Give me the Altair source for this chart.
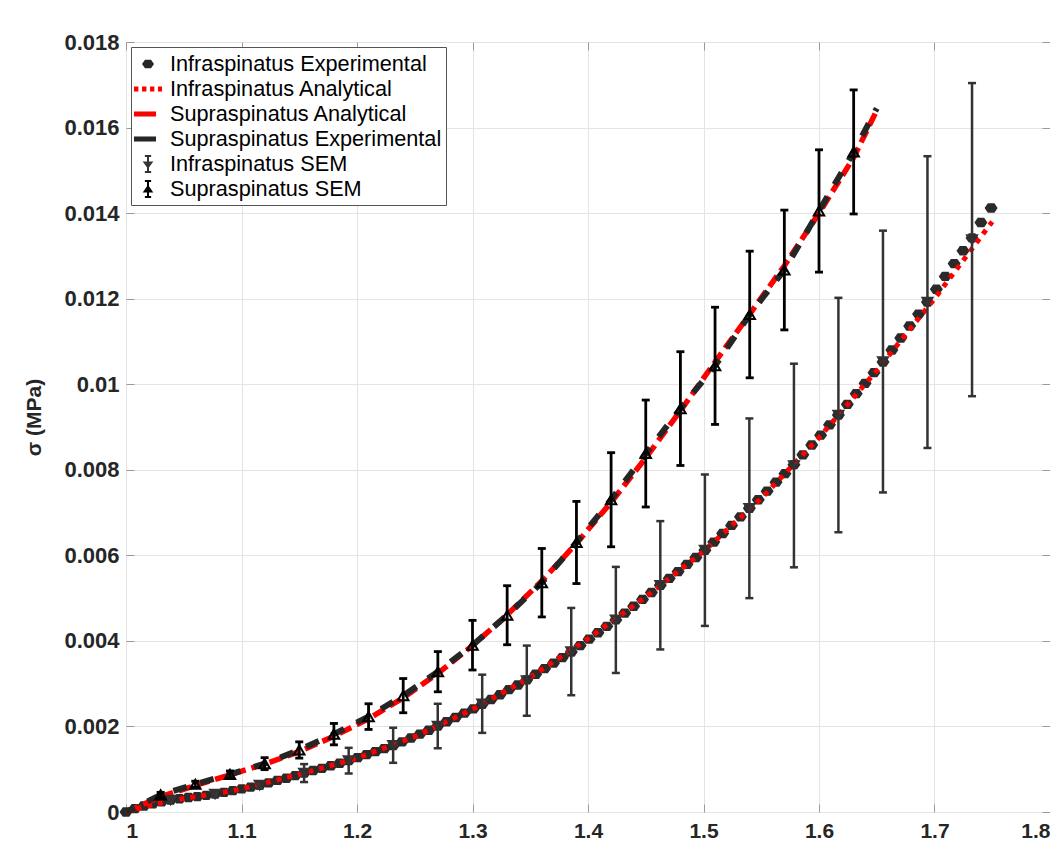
import altair as alt
import pandas as pd

# ---------------- data ----------------
infra_exp_x = [1.0000, 1.0077, 1.0154, 1.0231, 1.0308, 1.0386, 1.0463, 1.0540, 1.0617, 1.0694,
               1.0771, 1.0848, 1.0925, 1.1002, 1.1079, 1.1157, 1.1234, 1.1311, 1.1388, 1.1465,
               1.1542, 1.1619, 1.1696, 1.1773, 1.1850, 1.1928, 1.2005, 1.2082, 1.2159, 1.2236,
               1.2313, 1.2390, 1.2467, 1.2544, 1.2621, 1.2699, 1.2776, 1.2853, 1.2930, 1.3007,
               1.3084, 1.3161, 1.3238, 1.3315, 1.3392, 1.3470, 1.3547, 1.3624, 1.3701, 1.3778,
               1.3855, 1.3932, 1.4009, 1.4086, 1.4163, 1.4241, 1.4318, 1.4395, 1.4472, 1.4549,
               1.4626, 1.4703, 1.4780, 1.4857, 1.4934, 1.5012, 1.5089, 1.5166, 1.5243, 1.5320,
               1.5397, 1.5474, 1.5551, 1.5628, 1.5705, 1.5783, 1.5860, 1.5937, 1.6014, 1.6091,
               1.6168, 1.6245, 1.6322, 1.6399, 1.6476, 1.6554, 1.6631, 1.6708, 1.6785, 1.6862,
               1.6939, 1.7016, 1.7093, 1.7170, 1.7247, 1.7325, 1.7402, 1.7490]
infra_exp_y = [0.0, 0.00008, 0.00014, 0.00019, 0.00024, 0.00028, 0.00031, 0.00034, 0.00036, 0.00039,
               0.00042, 0.00046, 0.00050, 0.00054, 0.00058, 0.00063, 0.00068, 0.00074, 0.00079, 0.00085,
               0.00091, 0.00097, 0.00102, 0.00108, 0.00114, 0.00120, 0.00127, 0.00134, 0.00141, 0.00148,
               0.00155, 0.00164, 0.00173, 0.00182, 0.00191, 0.00201, 0.00211, 0.00221, 0.00231, 0.00241,
               0.00252, 0.00263, 0.00274, 0.00286, 0.00297, 0.00309, 0.00322, 0.00335, 0.00348, 0.00361,
               0.00374, 0.00389, 0.00404, 0.00419, 0.00434, 0.00449, 0.00465, 0.00481, 0.00497, 0.00513,
               0.00530, 0.00546, 0.00562, 0.00579, 0.00595, 0.00612, 0.00631, 0.00651, 0.00670, 0.00690,
               0.00710, 0.00730, 0.00750, 0.00771, 0.00791, 0.00812, 0.00835, 0.00858, 0.00881, 0.00905,
               0.00928, 0.00953, 0.00978, 0.01002, 0.01027, 0.01052, 0.01080, 0.01108, 0.01136, 0.01164,
               0.01192, 0.01222, 0.01252, 0.01282, 0.01312, 0.01342, 0.01378, 0.01412]

infra_an_x = [1.00, 1.02, 1.04, 1.06, 1.08, 1.10, 1.15, 1.20, 1.25, 1.30,
              1.35, 1.40, 1.45, 1.50, 1.55, 1.60, 1.65, 1.70, 1.75]
infra_an_y = [0.0, 0.00015, 0.00027, 0.00036, 0.00044, 0.00054, 0.00088, 0.00126, 0.00176, 0.00240,
              0.00315, 0.00405, 0.00503, 0.00609, 0.00733, 0.00875, 0.01032, 0.01200, 0.01380]

supra_x = [1.00, 1.03, 1.06, 1.09, 1.12, 1.15, 1.18, 1.21, 1.24, 1.27, 1.30, 1.33,
           1.36, 1.39, 1.42, 1.45, 1.48, 1.51, 1.54, 1.57, 1.60, 1.63, 1.65]
supra_an_y = [0.0, 0.00036, 0.00062, 0.00087, 0.00112, 0.00141, 0.00177, 0.00218, 0.00267, 0.00324,
              0.00389, 0.00461, 0.00540, 0.00628, 0.00724, 0.00828, 0.00938, 0.01052, 0.01164,
              0.01277, 0.01400, 0.01530, 0.01640]
supra_exp_y = [0.0, 0.00040, 0.00065, 0.00088, 0.00113, 0.00145, 0.00182, 0.00223, 0.00272, 0.00328,
               0.00390, 0.00460, 0.00536, 0.00630, 0.00730, 0.00838, 0.00943, 0.01043, 0.01163,
               0.01267, 0.01405, 0.01543, 0.01645]

supra_sem_x = [1.03, 1.06, 1.09, 1.12, 1.15, 1.18, 1.21, 1.24, 1.27, 1.30, 1.33,
               1.36, 1.39, 1.42, 1.45, 1.48, 1.51, 1.54, 1.57, 1.60, 1.63]
supra_sem_mean = [0.00040, 0.00065, 0.00088, 0.00113, 0.00145, 0.00182, 0.00223, 0.00272, 0.00328,
                  0.00390, 0.00460, 0.00536, 0.00630, 0.00730, 0.00838, 0.00943, 0.01043, 0.01163,
                  0.01267, 0.01405, 0.01543]
supra_sem_err = [0.00006, 0.00007, 0.00008, 0.00014, 0.00019, 0.00025, 0.00030, 0.00040, 0.00047,
                 0.00058, 0.00069, 0.00080, 0.00096, 0.00110, 0.00125, 0.00133, 0.00137, 0.00148,
                 0.00140, 0.00143, 0.00145]

infra_sem_x = [1.0386, 1.0771, 1.1157, 1.1542, 1.1928, 1.2313, 1.2699, 1.3084, 1.3470, 1.3855,
               1.4241, 1.4626, 1.5012, 1.5397, 1.5783, 1.6168, 1.6554, 1.6939, 1.7325]
infra_sem_mean = [0.00028, 0.00042, 0.00063, 0.00091, 0.00120, 0.00156, 0.00201, 0.00253, 0.00307,
                  0.00375, 0.00449, 0.00530, 0.00612, 0.00710, 0.00810, 0.00928, 0.01053, 0.01192, 0.01338]
infra_sem_err = [0.00005, 0.00006, 0.00008, 0.00021, 0.00030, 0.00041, 0.00052, 0.00068, 0.00082,
                 0.00102, 0.00124, 0.00150, 0.00177, 0.00210, 0.00238, 0.00274, 0.00306, 0.00341, 0.00366]

x_ticks = [1.0, 1.1, 1.2, 1.3, 1.4, 1.5, 1.6, 1.7, 1.8]
y_ticks = [0, 0.002, 0.004, 0.006, 0.008, 0.01, 0.012, 0.014, 0.016, 0.018]

legend_names = ["Infraspinatus Experimental", "Infraspinatus Analytical",
                "Supraspinatus Analytical", "Supraspinatus Experimental",
                "Infraspinatus SEM", "Supraspinatus SEM"]

# ---------------- tables ----------------
df_infra_exp = pd.DataFrame({"x": infra_exp_x, "y": infra_exp_y})
df_infra_an = pd.DataFrame({"x": infra_an_x, "y": infra_an_y})
df_supra_an = pd.DataFrame({"x": supra_x, "y": supra_an_y})
df_supra_exp = pd.DataFrame({"x": supra_x, "y": supra_exp_y})


def sem_frames(xs, means, errs):
    bars = pd.DataFrame({"x": xs, "y": means,
                         "lo": [m - e for m, e in zip(means, errs)],
                         "hi": [m + e for m, e in zip(means, errs)]})
    caps = pd.DataFrame({"x": list(xs) + list(xs),
                         "y": list(bars["lo"]) + list(bars["hi"])})
    return bars, caps


df_isem, df_icap = sem_frames(infra_sem_x, infra_sem_mean, infra_sem_err)
df_ssem, df_scap = sem_frames(supra_sem_x, supra_sem_mean, supra_sem_err)
df_leg = pd.DataFrame({"series": legend_names, "x": [0.5] * 6, "y": [0.0] * 6})

# ---------------- scales / axes ----------------
FONT = "Liberation Sans"
W, H = 924, 770
xs = alt.Scale(domain=[1, 1.8], nice=False, zero=False)
ys = alt.Scale(domain=[0, 0.018], nice=False, zero=False)

ax_x_main = alt.Axis(orient="bottom", values=x_ticks, format="~g", grid=True, gridColor="#e4e4e4",
                     ticks=False, tickSize=0, domain=False, labelPadding=8, title=None,
                     labelFont=FONT, labelFontSize=21, labelFontWeight="bold", labelColor="#262626")
ax_y_main = alt.Axis(orient="left", values=y_ticks, format="~g", grid=True, gridColor="#e4e4e4",
                     ticks=False, tickSize=0, domain=False, labelPadding=7,
                     title="σ (MPa)", titleFont=FONT, titleFontSize=21, titleFontWeight="bold",
                     titleColor="#262626", titleX=-82, titleY=375, titleBaseline="bottom",
                     labelFont=FONT, labelFontSize=22, labelFontWeight="bold", labelColor="#262626")


def tick_axis(orient, values, offset):
    return alt.Axis(orient=orient, values=values, offset=offset, labels=False, grid=False,
                    domain=False, ticks=True, tickSize=8, tickColor="#9a9a9a", tickWidth=1, title=None)


ax_x_in_bottom = tick_axis("top", x_ticks, -H)
ax_x_in_top = tick_axis("bottom", x_ticks, -H)
ax_y_in_left = tick_axis("right", y_ticks, -W)
ax_y_in_right = tick_axis("left", y_ticks, -W)


def X(axis=None):
    return alt.X("x:Q", scale=xs, axis=axis)


def Y(field="y", axis=None):
    return alt.Y(f"{field}:Q", scale=ys, axis=axis)


HEX = "M-1,0L-0.5,-0.72L0.5,-0.72L1,0L0.5,0.72L-0.5,0.72Z"

infra_exp = alt.Chart(df_infra_exp).mark_point(
    shape=HEX, filled=True, color="#2a2a2a", size=169, opacity=1
).encode(x=X(ax_x_main), y=Y(axis=ax_y_main))

infra_an = alt.Chart(df_infra_an).mark_line(
    color="#ff0000", strokeWidth=5, strokeDash=[5, 6], strokeCap="butt"
).encode(x=X(ax_x_in_bottom), y=Y(axis=ax_y_in_left))

supra_an = alt.Chart(df_supra_an).mark_line(
    color="#ff0000", strokeWidth=5.5, strokeDash=[13, 6], strokeCap="butt"
).encode(x=X(ax_x_in_top), y=Y(axis=ax_y_in_right))

supra_exp = alt.Chart(df_supra_exp).mark_line(
    color="#262626", strokeWidth=6, strokeDash=[14, 14], strokeDashOffset=4, strokeCap="butt"
).encode(x=X(), y=Y())

isem_bar = alt.Chart(df_isem).mark_rule(color="#333333", strokeWidth=2.5).encode(
    x=X(), y=Y("lo"), y2="hi")
isem_cap = alt.Chart(df_icap).mark_tick(color="#333333", orient="horizontal", size=8,
                                        thickness=2.5, opacity=1).encode(x=X(), y=Y())
isem_pt = alt.Chart(df_isem).mark_point(shape="triangle-down", filled=False, color="#333333",
                                        size=100, strokeWidth=2, opacity=1).encode(x=X(), y=Y())

ssem_bar = alt.Chart(df_ssem).mark_rule(color="#000000", strokeWidth=2.8).encode(
    x=X(), y=Y("lo"), y2="hi")
ssem_cap = alt.Chart(df_scap).mark_tick(color="#000000", orient="horizontal", size=8,
                                        thickness=2.8, opacity=1).encode(x=X(), y=Y())
ssem_pt = alt.Chart(df_ssem).mark_point(shape="triangle-up", filled=False, color="#000000",
                                        size=110, strokeWidth=2, opacity=1).encode(x=X(), y=Y())

# legend (library legend with custom symbols)
leg_paths = [
    "M-0.5,0L-0.25,-0.36L0.25,-0.36L0.5,0L0.25,0.36L-0.25,0.36Z",
    "M-1.17,-0.2H-0.8V0.2H-1.17Z M-0.5,-0.2H-0.13V0.2H-0.5Z M0.17,-0.2H0.53V0.2H0.17Z M0.83,-0.2H1.17V0.2H0.83Z",
    "M-1.17,-0.21H0.67V0.21H-1.17Z",
    "M-1.17,-0.21H0.67V0.21H-1.17Z",
    "M0,-0.66V0.66M-0.26,-0.66H0.26M-0.26,0.66H0.26M-0.28,-0.12H0.28L0,0.26Z",
    "M0,-0.66V0.66M-0.26,-0.66H0.26M-0.26,0.66H0.26M-0.28,0.2H0.28L0,-0.2Z",
]
leg_fills = ["#262626", "#ff0000", "#ff0000", "#262626", "transparent", "#000000"]
leg_strokes = ["transparent", "transparent", "transparent", "transparent", "#333333", "#000000"]

LEG = alt.Legend(title=None, orient="top-left", offset=5, padding=4, fillColor="white",
                 strokeColor="#555555", cornerRadius=0, symbolSize=576, symbolStrokeWidth=2,
                 symbolOpacity=1, labelFont=FONT, labelFontSize=21.7, labelColor="#000000",
                 labelLimit=600, rowPadding=0, labelOffset=9)

legend_layer = alt.Chart(df_leg).mark_point(clip=True, opacity=1, size=576).encode(
    x=X(), y=Y(),
    shape=alt.Shape("series:N", scale=alt.Scale(domain=legend_names, range=leg_paths), legend=LEG),
    fill=alt.Fill("series:N", scale=alt.Scale(domain=legend_names, range=leg_fills), legend=LEG),
    stroke=alt.Stroke("series:N", scale=alt.Scale(domain=legend_names, range=leg_strokes), legend=LEG),
)

chart = alt.layer(
    infra_exp, infra_an, supra_an, supra_exp,
    isem_bar, isem_cap, isem_pt, ssem_bar, ssem_cap, ssem_pt, legend_layer
).properties(
    width=W, height=H,
    autosize=alt.AutoSizeParams(type="none"),
    padding={"left": 118, "top": 34, "right": 0, "bottom": 28},
    background="white",
).configure_view(stroke="#9a9a9a", strokeWidth=1)

chart.save("out.html", embed_options={"renderer": "svg", "actions": False})
